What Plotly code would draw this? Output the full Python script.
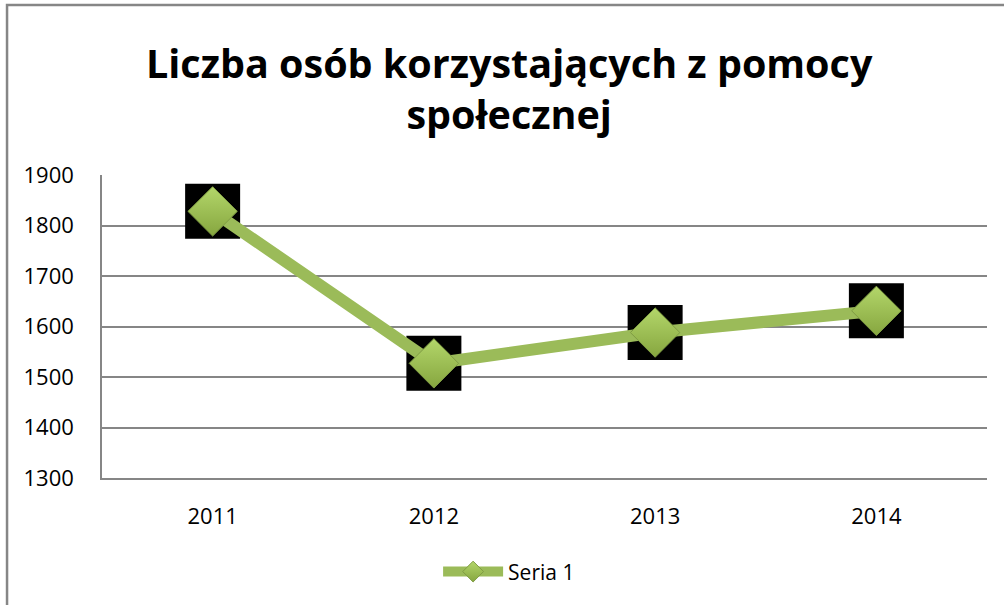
import plotly.graph_objects as go

years = ["2011", "2012", "2013", "2014"]
values = [1828, 1527, 1588, 1631]
series_name = "Seria 1"
title_text = "Liczba osób korzystających z pomocy<br>społecznej"

GREEN = "#9BBB59"
GRID = "#868686"
FONT = "Open Sans"

fig = go.Figure()
# black square backgrounds behind the diamonds
fig.add_trace(go.Scatter(
    x=years, y=values, mode="markers", showlegend=False, hoverinfo="skip",
    marker=dict(symbol="square", size=55, color="black"),
))
fig.add_trace(go.Scatter(
    x=years, y=values, mode="lines+markers", name=series_name,
    line=dict(color=GREEN, width=12),
    marker=dict(symbol="diamond", size=38, color="#B3D66A",
                gradient=dict(type="vertical", color="#86A63F"),
                line=dict(color="#7F9C43", width=1)),
))

fig.update_layout(
    width=1004, height=605,
    margin=dict(l=102, r=17, t=175, b=127),
    paper_bgcolor="white", plot_bgcolor="white",
    font=dict(family=FONT, color="black", size=22),
    showlegend=True,
    legend=dict(orientation="h", x=0.46, xanchor="center", y=-0.31, yanchor="middle",
                font=dict(size=21, family=FONT), itemwidth=60),
    annotations=[dict(
        text="<b>" + title_text + "</b>", x=0.461, xref="paper", y=1.287, yref="paper",
        xanchor="center", yanchor="middle", showarrow=False,
        font=dict(size=39.5, family=FONT, color="black"),
    )],
    shapes=[dict(
        type="rect", xref="paper", yref="paper", x0=-0.1073, x1=1.03, y0=-0.5, y1=1.561,
        line=dict(color=GRID, width=2.5), fillcolor="rgba(0,0,0,0)", layer="below",
    )],
)
fig.update_xaxes(
    type="category", range=[-0.5, 3.5], showgrid=False,
    showline=True, linecolor=GRID, linewidth=1.5, ticks="",
    ticklabelstandoff=18, tickfont=dict(size=22),
)
fig.update_yaxes(
    range=[1300, 1900], dtick=100, showgrid=True, gridcolor=GRID, gridwidth=1.5,
    showline=True, linecolor=GRID, linewidth=1.5, ticks="", zeroline=False,
    ticklabelstandoff=22, tickfont=dict(size=22),
)

fig.write_html("out.html", config={"displayModeBar": False},
               post_script="document.body.style.margin='0';")
